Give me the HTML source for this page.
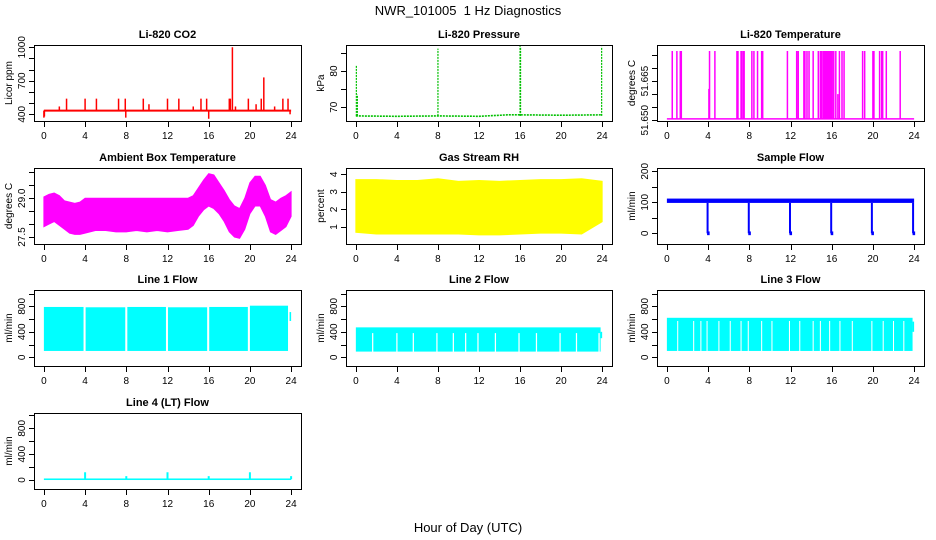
<!DOCTYPE html>
<html><head><meta charset="utf-8"><style>
html,body{margin:0;padding:0;background:#fff}
svg{display:block;font-family:"Liberation Sans",Arial,sans-serif}
</style></head><body>
<svg id="chart" width="936" height="540" viewBox="0 0 936 540" xmlns="http://www.w3.org/2000/svg">
<rect width="936" height="540" fill="#fff"/>
<text x="468" y="15" text-anchor="middle" font-size="13">NWR_101005&#160;&#160;1 Hz Diagnostics</text>
<text x="468" y="532" text-anchor="middle" font-size="13">Hour of Day (UTC)</text>
</svg>
<script>
// ---------- data ----------
const xTicks = [0,4,8,12,16,20,24];
const co2Base = 433;
const co2SpikeHours = [0,0.05,1.5,2.2,4.0,5.1,7.25,7.9,7.95,9.65,10.2,12.0,13.1,14.5,15.25,15.8,16.0,18.0,18.1,18.3,18.6,19.85,20.6,21.1,21.35,22.4,23.2,23.7,23.9];
const co2SpikeVals  = [370,380,470,540,540,540,540,540,370,540,490,540,540,470,540,540,360,540,540,1000,470,540,490,540,730,470,540,540,400];
const presBaseHours = [0,4,8,12,14.8,16,20,24];
const presBaseVals  = [67.6,67.5,67.6,67.5,67.9,67.9,67.8,67.9];
const presSpikeHours = [0.05,0.15,8.0,16.0,16.05,23.95];
const presSpikeVals  = [81.5,73.5,86.2,87.0,86.5,86.7];
const tempBase = 51.6505;
const tempSpikeHours = [0.52,0.97,1.3,1.4,4.08,4.14,4.66,6.8,6.9,7.2,7.3,7.45,7.5,8.25,8.45,8.8,9.2,9.3,11.7,12.6,12.75,13.3,13.4,13.6,13.8,14.2,14.7,14.9,15.0,15.15,15.25,15.35,15.45,15.55,15.65,15.75,15.85,15.95,16.05,16.2,16.4,16.6,16.75,17.0,17.2,19.0,19.2,20.0,20.1,20.65,20.85,20.95,21.3,22.65];
const tempSpikeVals  = [51.6765,51.6765,51.6765,51.6765,51.6620,51.6765,51.6765,51.6765,51.6765,51.6765,51.6765,51.6765,51.6765,51.6765,51.6765,51.6765,51.6765,51.6765,51.6765,51.6765,51.6765,51.6765,51.6765,51.6765,51.6765,51.6765,51.6765,51.6765,51.6765,51.6765,51.6765,51.6765,51.6765,51.6765,51.6765,51.6765,51.6765,51.6765,51.6765,51.6765,51.6765,51.6600,51.6765,51.6765,51.6765,51.6765,51.6765,51.6765,51.6765,51.6765,51.6765,51.6765,51.6765,51.6765];
const ambHours = [0,0.5,1,1.5,2,2.5,3,3.5,4,5,6,7,8,9,10,11,12,13,14,14.5,15,15.5,16,16.5,17,17.5,18,18.5,19,19.5,20,20.5,21,21.5,22,22.5,23,23.5,24];
const ambHi = [29.05,29.15,29.2,29.1,28.9,28.85,28.8,28.85,29.0,29.0,29.0,29.0,29.0,29.0,29.0,29.0,29.0,29.0,29.0,29.1,29.4,29.7,29.95,29.9,29.6,29.3,28.95,28.7,28.6,29.0,29.6,29.85,29.85,29.5,28.95,28.85,29.0,29.1,29.25];
const ambLo = [27.9,28.0,28.1,27.95,27.8,27.65,27.6,27.6,27.65,27.75,27.75,27.7,27.7,27.75,27.7,27.75,27.7,27.75,27.8,27.95,28.3,28.55,28.7,28.6,28.4,28.1,27.7,27.5,27.45,27.8,28.4,28.7,28.7,28.3,27.7,27.6,27.75,27.9,28.3];
const rhHours = [0,2,4,6,8,10,12,14,16,18,20,22,24];
const rhHi = [3.7,3.7,3.65,3.65,3.75,3.6,3.65,3.6,3.65,3.7,3.7,3.75,3.6];
const rhLo = [0.7,0.6,0.6,0.6,0.6,0.6,0.55,0.55,0.6,0.65,0.65,0.6,1.3];
const sampleHi = 112, sampleLo = 98;
const sampleDropHours = [3.95,7.95,11.95,15.95,19.9,23.9];
const sampleDropVals  = [0,0,0,0,0,0];
const line1Lo = 100;
const line1Breaks = [0,3.85,7.9,11.85,15.85,19.8,23.7];
const line1Hi = [790,785,790,785,790,810];
const line2Lo = 90, line2Hi = 470, line2GapTop = 380;
const line2Gaps = [1.64,4.0,5.6,7.9,9.5,10.7,11.9,13.6,15.9,17.6,19.9,21.5,23.7];
const line3Lo = 100, line3Hi = 620, line3GapTop = 570;
const line3Gaps = [1.05,2.6,3.3,3.9,5.05,6.15,7.2,7.9,9.2,10.2,11.9,12.9,14.2,14.9,15.8,16.8,18.0,19.9,21.0,22.0,23.0];
const line4Base = 12;
const line4SpikeHours = [4.0,8.0,12.0,16.0,20.0,24.0];
const line4SpikeVals  = [120,60,120,60,120,60];

// ---------- layout ----------
const NS = "http://www.w3.org/2000/svg";
const svg = document.getElementById('chart');
const cols = [[34,301],[346,612],[657,924]];
const rows = [[45,121],[168,244],[290,366],[413,489]];
function mk(tag, attrs, parent){
  const e = document.createElementNS(NS, tag);
  for (const k in attrs) e.setAttribute(k, attrs[k]);
  (parent||svg).appendChild(e);
  return e;
}
function panel(c, r, ymin, ymax, title, ylab, yticks, ylabels, name){
  const [x0,x1] = cols[c], [y0,y1] = rows[r];
  const g = mk('g', {});
  
  
  const xs = h => x0 + (h + 0.96) / 25.92 * (x1 - x0);
  const ys = v => y1 - (v - ymin) / (ymax - ymin) * (y1 - y0);
  const t = mk('text', {x:(x0+x1)/2, y:y0-7, 'text-anchor':'middle', 'font-size':11, 'font-weight':'bold'}, g);
  t.textContent = title;
  
  
  const data = mk('g', {}, g);
  
  
  const ax = mk('g', {'shape-rendering':'crispEdges', stroke:'#000', 'stroke-width':1}, g);
  const fr = mk('rect', {x:x0+0.5, y:y0+0.5, width:x1-x0, height:y1-y0, fill:'none'}, ax);
  
  
  // x axis
  xTicks.forEach(h => {
    const X = Math.round(xs(h)) + 0.5;
    mk('line', {x1:X, x2:X, y1:y1+1, y2:y1+6}, ax);
    const tl = mk('text', {x:xs(h), y:y1+18, 'text-anchor':'middle', 'font-size':10}, g);
    tl.textContent = h;
    
    
  });
  // y axis
  yticks.forEach((v,i) => {
    const Y = Math.round(ys(v)) + 0.5;
    mk('line', {x1:x0-5, x2:x0, y1:Y, y2:Y}, ax);
    if (ylabels[i] !== '') {
      const tx = x0 - 9, ty = ys(v);
      const tl = mk('text', {x:tx, y:ty, 'text-anchor':'middle', 'font-size':10, transform:`rotate(-90 ${tx} ${ty})`}, g);
      tl.textContent = ylabels[i];
      
      
    }
  });
  const lx = x0 - 22, ly = (y0+y1)/2;
  const yl = mk('text', {x:lx, y:ly, 'text-anchor':'middle', 'font-size':10, transform:`rotate(-90 ${lx} ${ly})`}, g);
  yl.textContent = ylab;
  
  
  return {xs, ys, g:data};
}
function vline(p, h, a, b, col, w, nm){
  const l = mk('line', {x1:p.xs(h), x2:p.xs(h), y1:p.ys(a), y2:p.ys(b), stroke:col, 'stroke-width':w||1}, p.g);
  
  
}
function band(p, hrs, hi, lo, col, nm){
  let d = 'M' + hrs.map((h,i)=>p.xs(h)+','+p.ys(hi[i])).join('L');
  d += 'L' + hrs.slice().reverse().map((h,i)=>p.xs(h)+','+p.ys(lo[hrs.length-1-i])).join('L') + 'Z';
  const e = mk('path', {d, fill:col, stroke:col, 'stroke-width':1}, p.g);
  
  
}
function rectH(p, h0, h1, a, b, col, nm){
  const e = mk('rect', {x:p.xs(h0), y:p.ys(b), width:p.xs(h1)-p.xs(h0), height:p.ys(a)-p.ys(b), fill:col}, p.g);
  
  
}

// CO2
let p = panel(0,0,340,1020,'Li-820 CO2','Licor ppm',[400,500,600,700,800,900,1000],['400','','','700','','','1000'],'co2');
(function(){ const e = mk('line',{x1:p.xs(0),x2:p.xs(24),y1:p.ys(co2Base),y2:p.ys(co2Base),stroke:'#f00','stroke-width':2},p.g);
   })();
co2SpikeHours.forEach((h,i)=>vline(p,h,co2Base,co2SpikeVals[i],'#f00',1.5,'co2-spike'));

// Pressure
p = panel(1,0,66.2,87.2,'Li-820 Pressure','kPa',[70,75,80,85],['70','','80',''],'pressure');
(function(){ const e = mk('polyline',{points:presBaseHours.map((h,i)=>p.xs(h)+','+p.ys(presBaseVals[i])).join(' '),fill:'none',stroke:'#00c000','stroke-width':1.6,'stroke-dasharray':'2 1'},p.g);
   })();
presSpikeHours.forEach((h,i)=>{
  const e = mk('line',{x1:p.xs(h),x2:p.xs(h),y1:p.ys(67.6),y2:p.ys(presSpikeVals[i]),stroke:'#00c000','stroke-width':1.2,'stroke-dasharray':'2 1'},p.g);
   
});

// Li-820 Temperature
p = panel(2,0,51.6497,51.6788,'Li-820 Temperature','degrees C',[51.650,51.655,51.660,51.665,51.670,51.675],['51.650','','','51.665','',''],'li820-temp');
(function(){ const e = mk('line',{x1:p.xs(0),x2:p.xs(24),y1:p.ys(tempBase),y2:p.ys(tempBase),stroke:'#f0f','stroke-width':1.5},p.g);
   })();
tempSpikeHours.forEach((h,i)=>vline(p,h,tempBase,tempSpikeVals[i],'#f0f',1.5,'li820-temp-spike'));

// Ambient
p = panel(0,1,27.23,30.17,'Ambient Box Temperature','degrees C',[27.5,28.0,28.5,29.0,29.5,30.0],['27.5','','','29.0','',''],'ambient-temp');
band(p, ambHours, ambHi, ambLo, '#f0f', 'ambient-temp-band');

// Gas RH
p = panel(1,1,0.03,4.36,'Gas Stream RH','percent',[1,2,3,4],['1','2','3','4'],'gas-rh');
band(p, rhHours, rhHi, rhLo, '#ff0', 'gas-rh-band');

// Sample flow
p = panel(2,1,-34.5,210.6,'Sample Flow','ml/min',[0,50,100,150,200],['0','','100','','200'],'sample-flow');
rectH(p, 0, 24, sampleLo, sampleHi, '#00f', 'sample-flow-band');
sampleDropHours.forEach((h,i)=>{ vline(p,h,sampleLo,sampleDropVals[i],'#00f',2,'sample-flow-drop');
  rectH(p,h-0.05,h+0.2,sampleDropVals[i]-6,sampleDropVals[i]+6,'#00f','sample-flow-drop-end'); });

const flowTicks = [0,200,400,600,800,1000], flowLabels = ['0','','400','','800',''];
// Line 1
p = panel(0,2,-136,1056,'Line 1 Flow','ml/min',flowTicks,flowLabels,'line1-flow');
line1Hi.forEach((v,i)=>rectH(p, line1Breaks[i]+(i?0.2:0), line1Breaks[i+1], line1Lo, v, '#0ff', 'line1-flow-segment'));
rectH(p, 23.85, 24.0, 570, 710, '#0ff', 'line1-flow-end');
// Line 2
p = panel(1,2,-136,1056,'Line 2 Flow','ml/min',flowTicks,flowLabels,'line2-flow');
rectH(p, 0, 23.85, line2Lo, line2Hi, '#0ff', 'line2-flow-band');
rectH(p, 23.85, 24.0, 300, 400, '#0ff', 'line2-flow-end');
line2Gaps.forEach(h=>rectH(p, h-0.06, h+0.06, line2Lo-10, line2GapTop, '#fff', 'line2-flow-gap'));
// Line 3
p = panel(2,2,-136,1056,'Line 3 Flow','ml/min',flowTicks,flowLabels,'line3-flow');
rectH(p, 0, 23.85, line3Lo, line3Hi, '#0ff', 'line3-flow-band');
rectH(p, 23.85, 24.0, 400, 560, '#0ff', 'line3-flow-end');
line3Gaps.forEach(h=>rectH(p, h-0.05, h+0.05, line3Lo-10, line3GapTop, '#fff', 'line3-flow-gap'));
// Line 4
p = panel(0,3,-139,1037,'Line 4 (LT) Flow','ml/min',flowTicks,flowLabels,'line4-flow');
rectH(p, 0, 24, line4Base-12, line4Base+12, '#0ff', 'line4-flow-baseline');
line4SpikeHours.forEach((h,i)=>vline(p,h,line4Base,line4SpikeVals[i],'#0ff',2,'line4-flow-spike'));
</script>
</body></html>
